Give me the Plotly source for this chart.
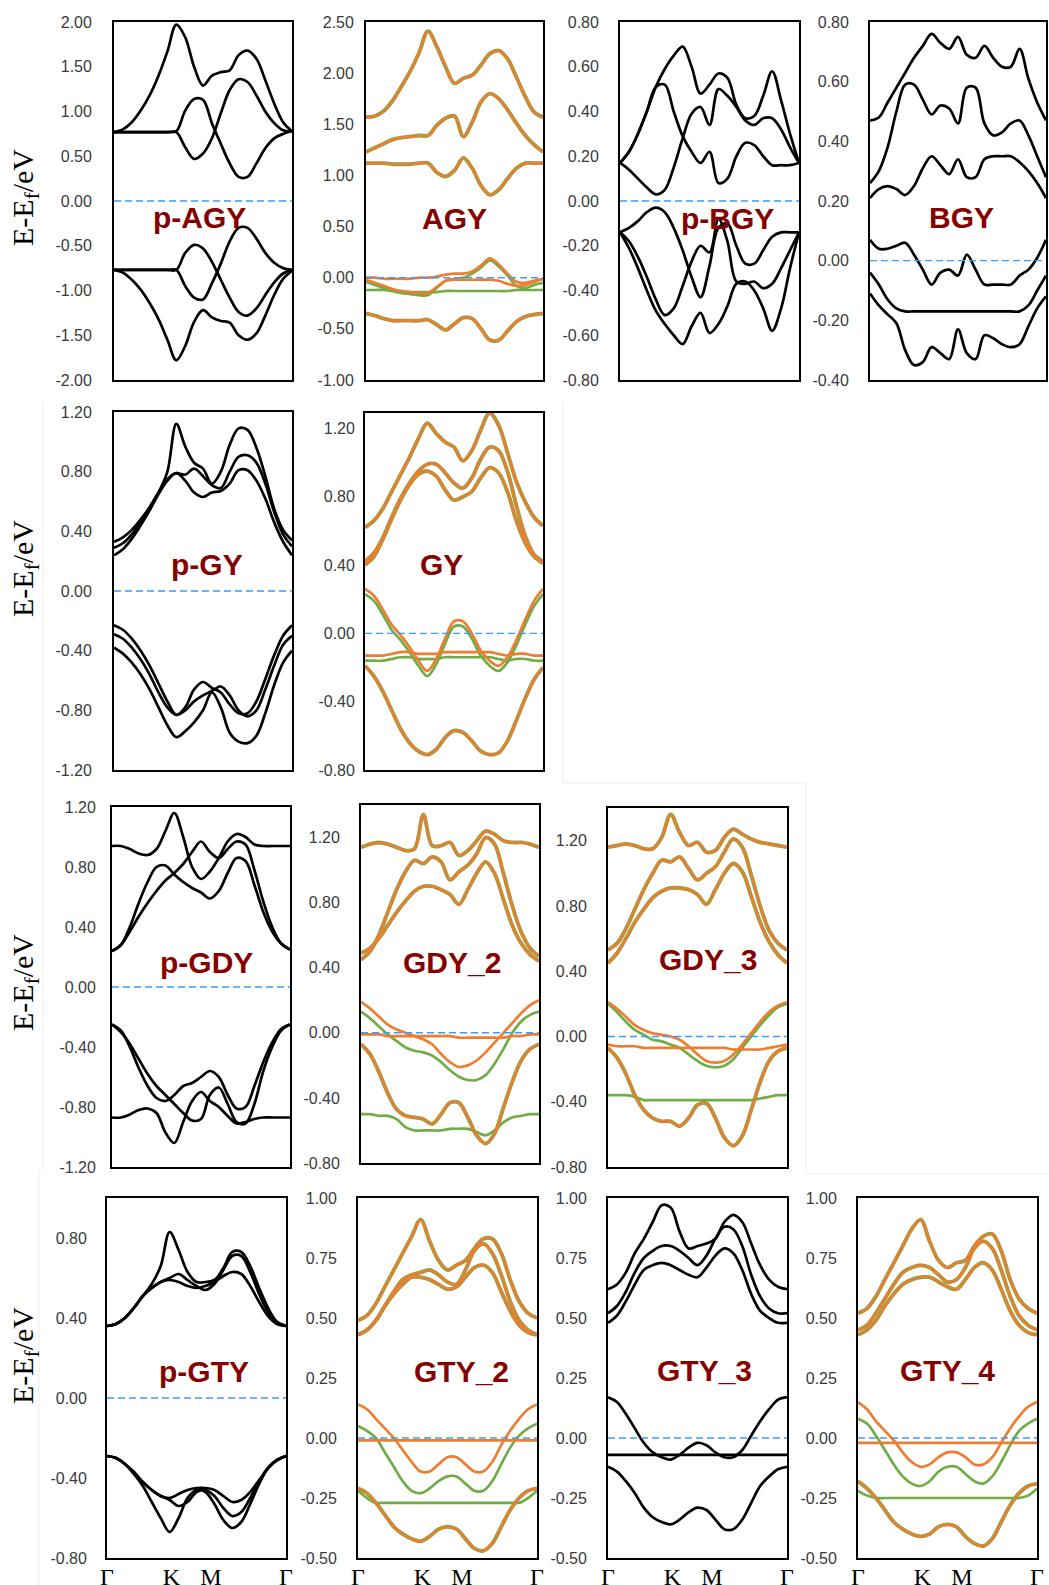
import plotly.graph_objects as go

# ---------------- k-path sample positions (fraction of Γ-K-M-Γ path) ----------------
X = [0.00, 0.05, 0.10, 0.15, 0.20, 0.25, 0.30, 0.35, 0.40, 0.45, 0.50,
     0.55, 0.60, 0.65, 0.70, 0.75, 0.80, 0.85, 0.90, 0.95, 1.00]
K_TICKS = [0.0, 0.36, 0.58, 1.0]
K_TEXT = ["Γ", "K", "M", "Γ"]

# ---------------- p-AGY ----------------
pAGY_1 = [0.77, 0.80, 0.88, 1.01, 1.18, 1.40, 1.67, 1.97, 1.83, 1.50, 1.29, 1.40, 1.44, 1.46, 1.63, 1.68, 1.59, 1.35, 1.09, 0.88, 0.78]
pAGY_2 = [0.77, 0.77, 0.77, 0.77, 0.77, 0.77, 0.77, 0.78, 1.01, 1.14, 1.13, 0.87, 0.64, 0.42, 0.27, 0.27, 0.42, 0.59, 0.70, 0.75, 0.78]
pAGY_3 = [0.77, 0.77, 0.77, 0.77, 0.77, 0.77, 0.77, 0.77, 0.60, 0.47, 0.53, 0.70, 0.98, 1.24, 1.36, 1.33, 1.18, 1.00, 0.87, 0.79, 0.78]
pAGY_4 = [-0.77, -0.80, -0.88, -0.99, -1.14, -1.32, -1.55, -1.78, -1.62, -1.35, -1.22, -1.30, -1.34, -1.36, -1.50, -1.55, -1.48, -1.28, -1.05, -0.87, -0.78]
pAGY_5 = [-0.77, -0.77, -0.77, -0.77, -0.77, -0.77, -0.77, -0.77, -0.58, -0.49, -0.53, -0.68, -0.88, -1.08, -1.24, -1.28, -1.20, -1.05, -0.91, -0.81, -0.77]
pAGY_6 = [-0.77, -0.77, -0.77, -0.77, -0.77, -0.77, -0.77, -0.77, -0.95, -1.08, -1.10, -0.92, -0.70, -0.45, -0.30, -0.30, -0.42, -0.58, -0.69, -0.75, -0.77]
pAGY_ticks = [-2.0, -1.5, -1.0, -0.5, 0.0, 0.5, 1.0, 1.5, 2.0]

# ---------------- AGY ----------------
AGY_b1 = [1.57, 1.58, 1.63, 1.73, 1.87, 2.02, 2.20, 2.41, 2.26, 2.06, 1.90, 1.95, 1.98, 2.08, 2.19, 2.22, 2.14, 1.96, 1.77, 1.62, 1.57]
AGY_b2 = [1.23, 1.27, 1.31, 1.35, 1.37, 1.38, 1.39, 1.39, 1.49, 1.56, 1.58, 1.38, 1.52, 1.72, 1.80, 1.75, 1.64, 1.51, 1.39, 1.30, 1.23]
AGY_b3 = [1.12, 1.12, 1.12, 1.11, 1.11, 1.11, 1.12, 1.12, 1.03, 0.99, 1.05, 1.17, 1.07, 0.90, 0.81, 0.86, 0.97, 1.07, 1.12, 1.12, 1.12]
AGY_b4 = [-0.35, -0.37, -0.40, -0.42, -0.42, -0.42, -0.42, -0.41, -0.46, -0.51, -0.45, -0.39, -0.40, -0.50, -0.61, -0.61, -0.52, -0.43, -0.38, -0.36, -0.35]
AGY_up1 = [0.00, 0.00, -0.01, -0.01, -0.01, -0.01, 0.00, 0.00, 0.01, 0.03, 0.04, 0.04, 0.06, 0.12, 0.19, 0.13, 0.04, -0.04, -0.05, -0.03, -0.01]
AGY_up2 = [-0.02, -0.05, -0.08, -0.11, -0.13, -0.14, -0.15, -0.15, -0.09, -0.03, -0.02, -0.02, -0.02, -0.02, -0.02, -0.03, -0.06, -0.08, -0.07, -0.04, -0.01]
AGY_dn1 = [-0.04, -0.07, -0.10, -0.13, -0.15, -0.16, -0.17, -0.17, -0.10, -0.03, -0.01, 0.00, 0.04, 0.10, 0.17, 0.11, 0.02, -0.08, -0.10, -0.07, -0.05]
AGY_dn2 = [-0.12, -0.12, -0.12, -0.13, -0.13, -0.14, -0.14, -0.14, -0.14, -0.13, -0.13, -0.13, -0.13, -0.13, -0.13, -0.13, -0.13, -0.12, -0.12, -0.12, -0.12]
AGY_ticks = [-1.0, -0.5, 0.0, 0.5, 1.0, 1.5, 2.0, 2.5]

# ---------------- p-BGY ----------------
pBGY_1 = [0.17, 0.22, 0.30, 0.40, 0.51, 0.59, 0.65, 0.69, 0.60, 0.48, 0.52, 0.57, 0.55, 0.43, 0.37, 0.38, 0.47, 0.58, 0.45, 0.30, 0.17]
pBGY_2 = [0.17, 0.22, 0.30, 0.40, 0.51, 0.52, 0.40, 0.29, 0.22, 0.17, 0.22, 0.08, 0.10, 0.20, 0.26, 0.25, 0.20, 0.16, 0.16, 0.16, 0.17]
pBGY_3 = [0.17, 0.14, 0.10, 0.06, 0.03, 0.05, 0.15, 0.28, 0.39, 0.42, 0.34, 0.50, 0.47, 0.42, 0.36, 0.34, 0.37, 0.37, 0.32, 0.24, 0.17]
pBGY_4 = [-0.14, -0.12, -0.09, -0.05, -0.03, -0.05, -0.12, -0.22, -0.34, -0.43, -0.29, -0.12, -0.10, -0.20, -0.28, -0.28, -0.22, -0.16, -0.14, -0.14, -0.14]
pBGY_5 = [-0.14, -0.18, -0.25, -0.34, -0.44, -0.51, -0.48, -0.38, -0.27, -0.20, -0.23, -0.08, -0.18, -0.36, -0.37, -0.36, -0.39, -0.37, -0.30, -0.22, -0.14]
pBGY_6 = [-0.14, -0.21, -0.30, -0.40, -0.49, -0.55, -0.60, -0.64, -0.56, -0.50, -0.59, -0.55, -0.47, -0.37, -0.36, -0.40, -0.48, -0.58, -0.48, -0.30, -0.14]
pBGY_ticks = [-0.8, -0.6, -0.4, -0.2, 0.0, 0.2, 0.4, 0.6, 0.8]

# ---------------- BGY ----------------
BGY_1 = [0.47, 0.48, 0.53, 0.58, 0.63, 0.68, 0.72, 0.76, 0.73, 0.71, 0.75, 0.69, 0.68, 0.72, 0.68, 0.65, 0.65, 0.71, 0.61, 0.53, 0.47]
BGY_2 = [0.26, 0.30, 0.38, 0.50, 0.59, 0.59, 0.54, 0.49, 0.52, 0.51, 0.46, 0.58, 0.58, 0.46, 0.42, 0.43, 0.46, 0.47, 0.42, 0.35, 0.28]
BGY_3 = [0.21, 0.24, 0.25, 0.24, 0.22, 0.25, 0.31, 0.35, 0.32, 0.29, 0.34, 0.28, 0.28, 0.34, 0.35, 0.35, 0.35, 0.33, 0.30, 0.26, 0.21]
BGY_4 = [0.07, 0.04, 0.04, 0.05, 0.06, 0.02, -0.03, -0.08, -0.04, -0.03, -0.05, 0.02, -0.03, -0.08, -0.08, -0.08, -0.08, -0.05, -0.03, 0.01, 0.07]
BGY_5 = [-0.04, -0.08, -0.13, -0.16, -0.17, -0.17, -0.17, -0.17, -0.17, -0.17, -0.17, -0.17, -0.17, -0.17, -0.17, -0.17, -0.17, -0.17, -0.15, -0.10, -0.05]
BGY_6 = [-0.11, -0.15, -0.18, -0.21, -0.30, -0.35, -0.34, -0.29, -0.31, -0.33, -0.23, -0.31, -0.33, -0.25, -0.26, -0.28, -0.29, -0.28, -0.22, -0.16, -0.12]
BGY_ticks = [-0.4, -0.2, 0.0, 0.2, 0.4, 0.6, 0.8]

# ---------------- p-GY ----------------
pGY_1 = [0.33, 0.36, 0.41, 0.48, 0.56, 0.66, 0.80, 1.12, 0.97, 0.86, 0.82, 0.72, 0.80, 0.98, 1.09, 1.08, 0.96, 0.77, 0.55, 0.41, 0.34]
pGY_2 = [0.29, 0.32, 0.38, 0.46, 0.56, 0.66, 0.75, 0.79, 0.78, 0.82, 0.77, 0.71, 0.69, 0.80, 0.90, 0.91, 0.86, 0.72, 0.53, 0.38, 0.30]
pGY_3 = [0.24, 0.28, 0.35, 0.44, 0.54, 0.65, 0.74, 0.79, 0.74, 0.66, 0.63, 0.66, 0.67, 0.72, 0.81, 0.81, 0.74, 0.62, 0.46, 0.33, 0.24]
pGY_4 = [-0.23, -0.26, -0.32, -0.40, -0.50, -0.62, -0.74, -0.83, -0.78, -0.66, -0.61, -0.65, -0.68, -0.76, -0.82, -0.82, -0.74, -0.59, -0.43, -0.30, -0.23]
pGY_5 = [-0.29, -0.32, -0.38, -0.46, -0.56, -0.68, -0.78, -0.83, -0.80, -0.74, -0.70, -0.67, -0.64, -0.70, -0.80, -0.84, -0.80, -0.66, -0.50, -0.36, -0.30]
pGY_6 = [-0.38, -0.42, -0.48, -0.56, -0.66, -0.78, -0.90, -0.98, -0.94, -0.88, -0.80, -0.68, -0.78, -0.95, -1.01, -1.02, -0.97, -0.82, -0.63, -0.48, -0.40]
pGY_ticks = [-1.2, -0.8, -0.4, 0.0, 0.4, 0.8, 1.2]

# ---------------- GY ----------------
GY_b1 = [0.62, 0.66, 0.73, 0.83, 0.93, 1.03, 1.14, 1.23, 1.17, 1.12, 1.09, 1.01, 1.07, 1.19, 1.29, 1.22, 1.06, 0.89, 0.77, 0.68, 0.63]
GY_b2 = [0.42, 0.47, 0.56, 0.68, 0.79, 0.88, 0.95, 0.99, 0.99, 0.94, 0.88, 0.85, 0.91, 1.02, 1.09, 1.07, 0.95, 0.75, 0.57, 0.46, 0.42]
GY_b3 = [0.40, 0.45, 0.55, 0.67, 0.78, 0.87, 0.93, 0.95, 0.92, 0.84, 0.78, 0.80, 0.83, 0.91, 0.97, 0.94, 0.83, 0.66, 0.53, 0.45, 0.41]
GY_b4 = [-0.19, -0.25, -0.34, -0.45, -0.56, -0.64, -0.69, -0.71, -0.68, -0.61, -0.57, -0.58, -0.63, -0.69, -0.71, -0.70, -0.63, -0.51, -0.38, -0.27, -0.20]
GY_up1 = [0.26, 0.22, 0.14, 0.05, -0.01, -0.08, -0.16, -0.22, -0.15, -0.03, 0.07, 0.07, 0.00, -0.10, -0.16, -0.19, -0.14, -0.04, 0.08, 0.19, 0.26]
GY_up2 = [-0.13, -0.13, -0.13, -0.12, -0.11, -0.11, -0.12, -0.12, -0.12, -0.11, -0.11, -0.11, -0.11, -0.11, -0.11, -0.12, -0.13, -0.12, -0.12, -0.13, -0.13]
GY_dn1 = [0.23, 0.19, 0.11, 0.02, -0.04, -0.11, -0.19, -0.25, -0.18, -0.06, 0.04, 0.04, -0.03, -0.13, -0.19, -0.22, -0.17, -0.07, 0.05, 0.16, 0.23]
GY_dn2 = [-0.16, -0.16, -0.16, -0.15, -0.14, -0.14, -0.15, -0.15, -0.15, -0.14, -0.14, -0.14, -0.14, -0.14, -0.14, -0.15, -0.16, -0.15, -0.15, -0.16, -0.16]
GY_ticks = [-0.8, -0.4, 0.0, 0.4, 0.8, 1.2]

# ---------------- p-GDY ----------------
pGDY_1 = [0.94, 0.94, 0.92, 0.89, 0.88, 0.92, 1.04, 1.16, 1.00, 0.80, 0.72, 0.77, 0.86, 0.97, 1.02, 1.00, 0.95, 0.94, 0.94, 0.94, 0.94]
pGDY_2 = [0.24, 0.28, 0.40, 0.56, 0.70, 0.80, 0.81, 0.75, 0.70, 0.66, 0.63, 0.59, 0.64, 0.76, 0.86, 0.84, 0.68, 0.50, 0.37, 0.29, 0.25]
pGDY_3 = [0.24, 0.28, 0.37, 0.47, 0.56, 0.64, 0.71, 0.76, 0.82, 0.90, 0.97, 0.90, 0.86, 0.92, 0.97, 0.95, 0.78, 0.57, 0.40, 0.29, 0.25]
pGDY_4 = [-0.25, -0.29, -0.40, -0.54, -0.66, -0.74, -0.76, -0.72, -0.66, -0.64, -0.60, -0.56, -0.60, -0.72, -0.81, -0.80, -0.66, -0.50, -0.37, -0.28, -0.25]
pGDY_5 = [-0.25, -0.30, -0.38, -0.48, -0.58, -0.66, -0.72, -0.78, -0.84, -0.89, -0.88, -0.72, -0.67, -0.78, -0.90, -0.91, -0.78, -0.56, -0.40, -0.29, -0.25]
pGDY_6 = [-0.87, -0.87, -0.85, -0.82, -0.81, -0.84, -0.97, -1.04, -0.90, -0.76, -0.70, -0.76, -0.80, -0.86, -0.91, -0.90, -0.88, -0.87, -0.87, -0.87, -0.87]
pGDY_ticks = [-1.2, -0.8, -0.4, 0.0, 0.4, 0.8, 1.2]

# ---------------- GDY_2 ----------------
GDY2_b1 = [1.14, 1.16, 1.17, 1.16, 1.14, 1.12, 1.13, 1.34, 1.15, 1.15, 1.17, 1.09, 1.12, 1.18, 1.24, 1.22, 1.18, 1.17, 1.17, 1.16, 1.14]
GDY2_b2 = [0.45, 0.50, 0.60, 0.74, 0.88, 0.99, 1.06, 1.04, 1.08, 1.05, 0.94, 0.99, 1.03, 1.10, 1.20, 1.16, 0.98, 0.78, 0.62, 0.52, 0.47]
GDY2_b3 = [0.49, 0.52, 0.58, 0.66, 0.74, 0.81, 0.87, 0.90, 0.90, 0.88, 0.85, 0.79, 0.88, 0.98, 1.05, 0.98, 0.82, 0.66, 0.55, 0.48, 0.44]
GDY2_b4 = [-0.07, -0.13, -0.24, -0.37, -0.47, -0.51, -0.52, -0.53, -0.56, -0.50, -0.43, -0.43, -0.52, -0.63, -0.68, -0.62, -0.46, -0.30, -0.17, -0.10, -0.07]
GDY2_up1 = [0.19, 0.15, 0.10, 0.05, 0.02, 0.00, -0.02, -0.04, -0.07, -0.13, -0.18, -0.21, -0.20, -0.17, -0.12, -0.06, 0.00, 0.06, 0.12, 0.17, 0.20]
GDY2_up2 = [-0.01, -0.01, -0.01, -0.02, -0.02, -0.02, -0.02, -0.02, -0.02, -0.02, -0.02, -0.03, -0.03, -0.03, -0.03, -0.03, -0.03, -0.02, -0.02, -0.01, -0.01]
GDY2_dn1 = [0.13, 0.09, 0.04, -0.01, -0.05, -0.09, -0.11, -0.12, -0.14, -0.18, -0.23, -0.27, -0.29, -0.29, -0.26, -0.19, -0.10, 0.00, 0.07, 0.11, 0.13]
GDY2_dn2 = [-0.50, -0.50, -0.51, -0.51, -0.53, -0.58, -0.60, -0.60, -0.60, -0.60, -0.59, -0.59, -0.59, -0.61, -0.63, -0.60, -0.55, -0.52, -0.51, -0.50, -0.50]
GDY_ticks = [-0.8, -0.4, 0.0, 0.4, 0.8, 1.2]

# ---------------- GDY_3 ----------------
GDY3_b1 = [1.16, 1.17, 1.18, 1.17, 1.15, 1.15, 1.22, 1.36, 1.25, 1.17, 1.19, 1.13, 1.14, 1.22, 1.27, 1.24, 1.21, 1.19, 1.18, 1.17, 1.16]
GDY3_b2 = [0.53, 0.57, 0.66, 0.78, 0.90, 1.00, 1.08, 1.07, 1.10, 1.03, 0.96, 1.00, 1.04, 1.13, 1.21, 1.16, 0.99, 0.80, 0.65, 0.57, 0.53]
GDY3_b3 = [0.45, 0.51, 0.60, 0.70, 0.78, 0.85, 0.89, 0.91, 0.91, 0.90, 0.87, 0.81, 0.90, 1.00, 1.06, 1.01, 0.86, 0.70, 0.58, 0.50, 0.45]
GDY3_b4 = [-0.07, -0.13, -0.23, -0.36, -0.45, -0.50, -0.52, -0.52, -0.55, -0.50, -0.42, -0.41, -0.50, -0.62, -0.67, -0.61, -0.45, -0.28, -0.15, -0.09, -0.07]
GDY3_up1 = [0.21, 0.17, 0.12, 0.07, 0.04, 0.02, 0.01, 0.00, -0.02, -0.06, -0.11, -0.15, -0.16, -0.15, -0.11, -0.05, 0.02, 0.09, 0.15, 0.19, 0.21]
GDY3_up2 = [-0.05, -0.06, -0.06, -0.06, -0.07, -0.07, -0.07, -0.07, -0.07, -0.07, -0.07, -0.07, -0.07, -0.07, -0.08, -0.08, -0.08, -0.08, -0.07, -0.06, -0.05]
GDY3_dn1 = [0.20, 0.15, 0.09, 0.04, 0.01, -0.02, -0.03, -0.05, -0.07, -0.11, -0.15, -0.18, -0.19, -0.18, -0.14, -0.07, 0.00, 0.07, 0.13, 0.18, 0.20]
GDY3_dn2 = [-0.36, -0.36, -0.36, -0.37, -0.39, -0.39, -0.39, -0.39, -0.39, -0.39, -0.39, -0.39, -0.39, -0.39, -0.39, -0.39, -0.39, -0.38, -0.37, -0.36, -0.36]

# ---------------- p-GTY ----------------
pGTY_1 = [0.36, 0.37, 0.40, 0.45, 0.51, 0.57, 0.66, 0.83, 0.74, 0.63, 0.58, 0.58, 0.59, 0.65, 0.73, 0.73, 0.66, 0.55, 0.45, 0.38, 0.36]
pGTY_2 = [0.36, 0.37, 0.40, 0.45, 0.51, 0.55, 0.58, 0.60, 0.62, 0.59, 0.56, 0.54, 0.57, 0.64, 0.71, 0.71, 0.63, 0.52, 0.43, 0.38, 0.36]
pGTY_3 = [0.36, 0.37, 0.40, 0.45, 0.51, 0.55, 0.58, 0.59, 0.58, 0.56, 0.55, 0.56, 0.58, 0.61, 0.63, 0.62, 0.56, 0.48, 0.41, 0.37, 0.36]
pGTY_4 = [-0.29, -0.30, -0.33, -0.37, -0.42, -0.46, -0.49, -0.50, -0.48, -0.46, -0.45, -0.45, -0.46, -0.49, -0.52, -0.51, -0.47, -0.41, -0.35, -0.31, -0.29]
pGTY_5 = [-0.29, -0.30, -0.33, -0.37, -0.42, -0.46, -0.49, -0.51, -0.54, -0.52, -0.47, -0.46, -0.49, -0.55, -0.59, -0.57, -0.50, -0.42, -0.35, -0.31, -0.29]
pGTY_6 = [-0.29, -0.30, -0.33, -0.38, -0.44, -0.52, -0.60, -0.67, -0.60, -0.50, -0.46, -0.47, -0.53, -0.61, -0.65, -0.62, -0.53, -0.43, -0.35, -0.31, -0.29]
pGTY_ticks = [-0.8, -0.4, 0.0, 0.4, 0.8]

# ---------------- GTY_2 ----------------
GTY2_b1 = [0.49, 0.51, 0.56, 0.63, 0.70, 0.77, 0.84, 0.91, 0.82, 0.74, 0.70, 0.72, 0.74, 0.79, 0.83, 0.83, 0.77, 0.66, 0.57, 0.52, 0.50]
GTY2_b2 = [0.43, 0.45, 0.49, 0.55, 0.61, 0.66, 0.68, 0.69, 0.70, 0.68, 0.65, 0.64, 0.70, 0.78, 0.81, 0.77, 0.68, 0.57, 0.49, 0.45, 0.43]
GTY2_b3 = [0.43, 0.45, 0.49, 0.55, 0.60, 0.64, 0.67, 0.67, 0.66, 0.64, 0.62, 0.63, 0.67, 0.71, 0.72, 0.69, 0.61, 0.53, 0.47, 0.44, 0.43]
GTY2_b4 = [-0.21, -0.23, -0.27, -0.32, -0.37, -0.40, -0.42, -0.43, -0.41, -0.38, -0.37, -0.38, -0.42, -0.46, -0.47, -0.44, -0.37, -0.30, -0.25, -0.22, -0.21]
GTY2_up1 = [0.14, 0.12, 0.08, 0.04, 0.00, -0.05, -0.10, -0.14, -0.14, -0.11, -0.08, -0.08, -0.11, -0.14, -0.14, -0.10, -0.03, 0.03, 0.08, 0.12, 0.14]
GTY2_up2 = [-0.01, -0.01, -0.01, -0.01, -0.01, -0.01, -0.01, -0.01, -0.01, -0.01, -0.01, -0.01, -0.01, -0.01, -0.01, -0.01, -0.01, -0.01, -0.01, -0.01, -0.01]
GTY2_dn1 = [0.05, 0.03, 0.00, -0.06, -0.12, -0.18, -0.22, -0.23, -0.21, -0.18, -0.16, -0.16, -0.19, -0.22, -0.22, -0.18, -0.11, -0.04, 0.01, 0.04, 0.06]
GTY2_dn2 = [-0.22, -0.25, -0.27, -0.27, -0.27, -0.27, -0.27, -0.27, -0.27, -0.27, -0.27, -0.27, -0.27, -0.27, -0.27, -0.27, -0.27, -0.27, -0.27, -0.25, -0.22]
GTY_ticks = [-0.5, -0.25, 0.0, 0.25, 0.5, 0.75, 1.0]

# ---------------- GTY_3 ----------------
GTY3_1 = [0.62, 0.64, 0.69, 0.77, 0.83, 0.90, 0.97, 0.96, 0.86, 0.79, 0.80, 0.81, 0.83, 0.90, 0.93, 0.90, 0.81, 0.72, 0.66, 0.63, 0.62]
GTY3_2 = [0.52, 0.55, 0.61, 0.69, 0.75, 0.78, 0.80, 0.80, 0.78, 0.75, 0.72, 0.76, 0.83, 0.88, 0.87, 0.80, 0.68, 0.59, 0.54, 0.52, 0.52]
GTY3_3 = [0.48, 0.51, 0.57, 0.64, 0.70, 0.72, 0.73, 0.72, 0.70, 0.68, 0.67, 0.71, 0.76, 0.79, 0.77, 0.70, 0.60, 0.53, 0.50, 0.48, 0.48]
GTY3_4 = [0.17, 0.15, 0.10, 0.04, -0.02, -0.06, -0.08, -0.09, -0.07, -0.04, -0.02, -0.03, -0.06, -0.08, -0.08, -0.05, 0.01, 0.07, 0.12, 0.16, 0.17]
GTY3_5 = [-0.07, -0.07, -0.07, -0.07, -0.07, -0.07, -0.07, -0.07, -0.07, -0.07, -0.07, -0.07, -0.07, -0.07, -0.07, -0.07, -0.07, -0.07, -0.07, -0.07, -0.07]
GTY3_6 = [-0.12, -0.14, -0.18, -0.23, -0.29, -0.33, -0.35, -0.36, -0.34, -0.31, -0.29, -0.30, -0.34, -0.38, -0.38, -0.34, -0.27, -0.20, -0.16, -0.13, -0.12]

# ---------------- GTY_4 ----------------
GTY4_b1 = [0.52, 0.54, 0.59, 0.66, 0.73, 0.80, 0.87, 0.91, 0.82, 0.74, 0.71, 0.73, 0.74, 0.80, 0.84, 0.85, 0.78, 0.66, 0.58, 0.54, 0.52]
GTY4_b2 = [0.45, 0.47, 0.52, 0.58, 0.64, 0.69, 0.71, 0.72, 0.71, 0.68, 0.65, 0.66, 0.71, 0.79, 0.82, 0.79, 0.70, 0.59, 0.51, 0.47, 0.45]
GTY4_b3 = [0.43, 0.45, 0.49, 0.55, 0.60, 0.64, 0.66, 0.67, 0.67, 0.65, 0.63, 0.62, 0.66, 0.71, 0.73, 0.70, 0.62, 0.53, 0.47, 0.44, 0.43]
GTY4_b4 = [-0.18, -0.21, -0.25, -0.30, -0.35, -0.38, -0.40, -0.41, -0.40, -0.37, -0.36, -0.37, -0.41, -0.44, -0.45, -0.42, -0.35, -0.28, -0.23, -0.20, -0.19]
GTY4_up1 = [0.15, 0.12, 0.07, 0.03, -0.01, -0.06, -0.10, -0.12, -0.11, -0.08, -0.06, -0.06, -0.08, -0.11, -0.11, -0.08, -0.02, 0.04, 0.09, 0.13, 0.15]
GTY4_up2 = [-0.02, -0.02, -0.02, -0.02, -0.02, -0.02, -0.02, -0.02, -0.02, -0.02, -0.02, -0.02, -0.02, -0.02, -0.02, -0.02, -0.02, -0.02, -0.02, -0.02, -0.02]
GTY4_dn1 = [0.08, 0.06, 0.01, -0.05, -0.11, -0.16, -0.19, -0.20, -0.18, -0.14, -0.12, -0.12, -0.15, -0.18, -0.19, -0.16, -0.10, -0.03, 0.03, 0.06, 0.08]
GTY4_dn2 = [-0.22, -0.24, -0.25, -0.25, -0.25, -0.25, -0.25, -0.25, -0.25, -0.25, -0.25, -0.25, -0.25, -0.25, -0.25, -0.25, -0.25, -0.25, -0.25, -0.24, -0.21]

# ---------------- panel table ----------------
ORANGE = "#ED7D31"
GREEN = "#70AD47"
BLACK = "#000000"
W, H = 1049, 1585

panels = [
    dict(label="p-AGY", black=[pAGY_1, pAGY_2, pAGY_3, pAGY_4, pAGY_5, pAGY_6], both=[], up=[], dn=[],
         yr=[-2.0, 2.0], ticks=pAGY_ticks, box=(114, 292, 22, 380), lab=(0.48, 0.455), so=17),
    dict(label="AGY", black=[], both=[AGY_b1, AGY_b2, AGY_b3, AGY_b4], up=[AGY_up1, AGY_up2], dn=[AGY_dn1, AGY_dn2],
         yr=[-1.0, 2.5], ticks=AGY_ticks, box=(366, 543, 22, 380), lab=(0.50, 0.452), so=7),
    dict(label="p-BGY", black=[pBGY_1, pBGY_2, pBGY_3, pBGY_4, pBGY_5, pBGY_6], both=[], up=[], dn=[],
         yr=[-0.8, 0.8], ticks=pBGY_ticks, box=(620, 799, 22, 380), lab=(0.60, 0.452), so=16),
    dict(label="BGY", black=[BGY_1, BGY_2, BGY_3, BGY_4, BGY_5, BGY_6], both=[], up=[], dn=[],
         yr=[-0.4, 0.8], ticks=BGY_ticks, box=(870, 1046, 22, 380), lab=(0.52, 0.455), so=16),
    dict(label="p-GY", black=[pGY_1, pGY_2, pGY_3, pGY_4, pGY_5, pGY_6], both=[], up=[], dn=[],
         yr=[-1.2, 1.2], ticks=pGY_ticks, box=(114, 292, 412, 770), lab=(0.525, 0.573), so=17),
    dict(label="GY", black=[], both=[GY_b1, GY_b2, GY_b3, GY_b4], up=[GY_up1, GY_up2], dn=[GY_dn1, GY_dn2],
         yr=[-0.8, 1.29], ticks=GY_ticks, box=(365, 543, 413, 770), lab=(0.43, 0.577), so=5),
    dict(label="p-GDY", black=[pGDY_1, pGDY_2, pGDY_3, pGDY_4, pGDY_5, pGDY_6], both=[], up=[], dn=[],
         yr=[-1.2, 1.2], ticks=pGDY_ticks, box=(112, 290, 807, 1167), lab=(0.53, 0.569), so=11),
    dict(label="GDY_2", black=[], both=[GDY2_b1, GDY2_b2, GDY2_b3, GDY2_b4], up=[GDY2_up1, GDY2_up2], dn=[GDY2_dn1, GDY2_dn2],
         yr=[-0.8, 1.4], ticks=GDY_ticks, box=(361, 539, 805, 1163), lab=(0.51, 0.561), so=16),
    dict(label="GDY_3", black=[], both=[GDY3_b1, GDY3_b2, GDY3_b3, GDY3_b4], up=[GDY3_up1, GDY3_up2], dn=[GDY3_dn1, GDY3_dn2],
         yr=[-0.8, 1.4], ticks=GDY_ticks, box=(608, 787, 808, 1167), lab=(0.558, 0.577), so=16),
    dict(label="p-GTY", black=[pGTY_1, pGTY_2, pGTY_3, pGTY_4, pGTY_5, pGTY_6], both=[], up=[], dn=[],
         yr=[-0.8, 1.0], ticks=pGTY_ticks, box=(107, 286, 1198, 1558), lab=(0.54, 0.517), so=15),
    dict(label="GTY_2", black=[], both=[GTY2_b1, GTY2_b2, GTY2_b3, GTY2_b4], up=[GTY2_up1, GTY2_up2], dn=[GTY2_dn1, GTY2_dn2],
         yr=[-0.5, 1.0], ticks=GTY_ticks, box=(358, 537, 1198, 1558), lab=(0.58, 0.517), so=16),
    dict(label="GTY_3", black=[GTY3_1, GTY3_2, GTY3_3, GTY3_4, GTY3_5, GTY3_6], both=[], up=[], dn=[],
         yr=[-0.5, 1.0], ticks=GTY_ticks, box=(608, 787, 1198, 1558), lab=(0.54, 0.52), so=16),
    dict(label="GTY_4", black=[], both=[GTY4_b1, GTY4_b2, GTY4_b3, GTY4_b4], up=[GTY4_up1, GTY4_up2], dn=[GTY4_dn1, GTY4_dn2],
         yr=[-0.5, 1.0], ticks=GTY_ticks, box=(858, 1037, 1198, 1558), lab=(0.50, 0.52), so=16),
]
BOTTOM_ROW = {"p-GTY", "GTY_2", "GTY_3", "GTY_4"}
ROW_TITLES_Y = [198, 569, 983, 1356]

# faint frames of the composited screenshots (pixel coords)
FRAME_LINES = [
    (563, 402, 563, 783), (563, 783, 806, 783), (806, 783, 806, 1174), (806, 1174, 1049, 1174),
    (43, 402, 43, 1170), (39, 1170, 39, 1585),
]

fig = go.Figure()
layout = dict(width=W, height=H, margin=dict(l=0, r=0, t=0, b=0, pad=0), autosize=False,
              template="none", paper_bgcolor="white", plot_bgcolor="white", showlegend=False)
shapes, annotations = [], []

for (x0, y0, x1, y1) in FRAME_LINES:
    shapes.append(dict(type="line", xref="paper", yref="paper", x0=x0 / W, x1=x1 / W,
                       y0=1 - y0 / H, y1=1 - y1 / H, line=dict(color="#ececec", width=1), layer="below"))


def line_trace(y, color, width, ax):
    return go.Scatter(x=X, y=y, mode="lines", xaxis="x" + ax, yaxis="y" + ax,
                      line=dict(color=color, width=width, shape="spline", smoothing=1.0),
                      hoverinfo="skip", showlegend=False)


for i, p in enumerate(panels, start=1):
    ax = "" if i == 1 else str(i)
    l, r, t, b = p["box"]
    for y in p["dn"]:
        fig.add_trace(line_trace(y, GREEN, 2.7, ax))
    for y in p["both"]:
        fig.add_trace(line_trace(y, GREEN, 3.9, ax))
    for y in p["up"]:
        fig.add_trace(line_trace(y, ORANGE, 2.7, ax))
    for y in p["both"]:
        fig.add_trace(line_trace(y, ORANGE, 2.6, ax))
    for y in p["black"]:
        fig.add_trace(line_trace(y, BLACK, 2.7, ax))

    bottom = p["label"] in BOTTOM_ROW
    layout["xaxis" + ax] = dict(
        domain=[l / W, r / W], range=[0, 1], anchor="y" + ax, automargin=False,
        showline=True, mirror=True, linecolor="black", linewidth=1.8,
        showgrid=False, zeroline=False, ticks="",
        showticklabels=bottom, tickvals=K_TICKS, ticktext=K_TEXT,
        tickfont=dict(family="Liberation Serif, Times New Roman, serif", size=24, color="black"),
        ticklabelstandoff=-4,
    )
    layout["yaxis" + ax] = dict(
        domain=[1 - b / H, 1 - t / H], range=p["yr"], anchor="x" + ax, automargin=False,
        showline=True, mirror=True, linecolor="black", linewidth=1.8,
        showgrid=False, zeroline=False, ticks="",
        tickvals=p["ticks"], ticktext=[f"{v:.2f}" for v in p["ticks"]],
        tickfont=dict(family="Liberation Sans, Arial, sans-serif", size=16, color="#3a3a3a"),
        ticklabelstandoff=p["so"],
    )
    shapes.append(dict(type="line", xref=f"x{ax} domain", yref=f"y{ax}", x0=0, x1=1, y0=0, y1=0,
                       line=dict(color="#3D9BFF", width=1.4, dash="7px,4px"), layer="above"))
    annotations.append(dict(xref=f"x{ax} domain", yref=f"y{ax} domain", x=p["lab"][0], y=p["lab"][1],
                            text=f"<b>{p['label']}</b>", showarrow=False, xanchor="center", yanchor="middle",
                            font=dict(family="Liberation Sans, Arial, sans-serif", size=30, color="#870000")))

for yc in ROW_TITLES_Y:
    annotations.append(dict(xref="paper", yref="paper", x=25 / W, y=1 - yc / H,
                            text="E-E<sub>f</sub>/eV", textangle=-90, showarrow=False,
                            xanchor="center", yanchor="middle",
                            font=dict(family="Liberation Serif, Times New Roman, serif", size=30, color="black")))

layout["shapes"] = shapes
layout["annotations"] = annotations
fig.update_layout(**layout)
fig.write_html("out.html", config={"displayModeBar": False},
               post_script="document.body.style.margin='0px';document.body.style.overflow='hidden';")
